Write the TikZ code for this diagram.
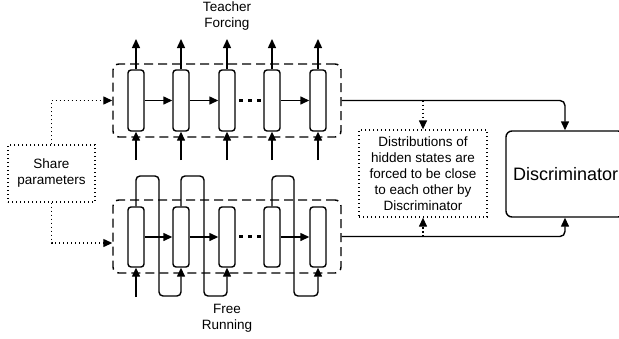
\documentclass[tikz,border=0pt]{standalone}
\usepackage{fontspec}
\setmainfont{Liberation Sans}
\usetikzlibrary{arrows.meta}
\begin{document}
\begin{tikzpicture}[x=1pt,y=-1pt,
  cell/.style={draw, rounded corners=3pt, minimum width=16pt, minimum height=61pt, line width=1.4pt, inner sep=0pt},
  grp/.style={draw, dash pattern=on 9pt off 5pt, rounded corners=6pt, line width=1.4pt, inner sep=0pt},
  arr/.style={-{Triangle[length=9pt,width=8pt]}, line width=1.4pt},
  ln/.style={line width=1.4pt},
  dotl/.style={line width=1.3pt, dash pattern=on 1.3pt off 2.7pt},
  dotarr/.style={dotl, -{Triangle[length=9pt,width=8pt]}},
  lbl/.style={align=center, font=\fontsize{13.5}{16}\selectfont, inner sep=0pt},
  dbox/.style={draw, dotl, align=center, font=\fontsize{13.5}{16}\selectfont, inner sep=0pt}
]
\useasboundingbox (0,0) rectangle (619,338);
% groups
\node[grp, minimum width=228pt, minimum height=73pt] (tg) at (227,100.5) {};
\node[grp, minimum width=228pt, minimum height=73pt] (bg) at (227,236.5) {};
% top cells
\foreach \i/\x in {1/136,2/181,3/227,4/272,5/318}{
  \node[cell, fill=white] (t\i) at (\x,100.5) {};
  \coordinate (to\i) at (\x,39);
  \coordinate (ti\i) at (\x,160);
  \draw[arr] (t\i.north) -- (to\i);
  \draw[arr] (ti\i) -- (t\i.south);
}
\draw[arr] (t1) -- (t2);
\draw[arr] (t2) -- (t3);
\draw[arr] (t4) -- (t5);
% bottom cells
\foreach \i/\x in {1/136,2/181,3/227,4/272,5/318}{
  \node[cell, fill=white, minimum height=60pt] (b\i) at (\x,237) {};
}
\draw[arr] (b1) -- (b2);
\draw[arr] (b2) -- (b3);
\draw[arr] (b4) -- (b5);
\coordinate (bi1) at (136,297);
\draw[arr] (bi1) -- (b1.south);
% feedback loops
\draw[arr, rounded corners=4pt] (b1.north) -- (136,176) -- (159,176) -- (159,296) -- (181,296) -- (b2.south);
\draw[arr, rounded corners=4pt] (b2.north) -- (181,176) -- (204,176) -- (204,296) -- (227,296) -- (b3.south);
\draw[arr, rounded corners=4pt] (b4.north) -- (272,176) -- (294,176) -- (294,296) -- (318,296) -- (b5.south);
% ellipsis dots
\foreach \y in {100.5,236.5}{
  \foreach \x in {241,250,259}{
    \fill (\x-1.7,\y-1.7) rectangle (\x+1.7,\y+1.7);
  }
}
% labels
\node[lbl] (tf) at (227,16) {Teacher\\Forcing};
\node[lbl] (fr) at (227,318) {Free\\Running};
% share parameters
\node[dbox, minimum width=87pt, minimum height=57pt] (share) at (51.5,173.5) {Share\\parameters};
\draw[dotarr] (share.north) |- (tg.west);
\draw[dotarr] (share.south) |- ([yshift=-6.5pt]bg.west);
% discriminator
\begin{scope}
\clip (0,0) rectangle (619,338);
\node[draw, line width=1.4pt, rounded corners=6pt, minimum width=118pt, minimum height=86pt, inner sep=0pt] (disc) at (565,174) {};
\end{scope}
\node[anchor=west, font=\fontsize{18}{21}\selectfont, inner sep=0pt] (disclbl) at (513,174) {Discriminator};
\draw[arr, rounded corners=5pt] (tg.east) -| (disc.north);
\draw[arr, rounded corners=5pt] (bg.east) -| (disc.south);
% distributions box
\node[dbox, minimum width=128pt, minimum height=87pt] (dist) at (423,173.5) {Distributions of\\hidden states are\\forced to be close\\to each other by\\Discriminator};
\coordinate (dj1) at (dist.north |- tg.east);
\coordinate (dj2) at (dist.south |- bg.east);
\draw[dotarr] (dj1) -- (dist.north);
\draw[dotarr] (dj2) -- (dist.south);
\end{tikzpicture}
\end{document}
